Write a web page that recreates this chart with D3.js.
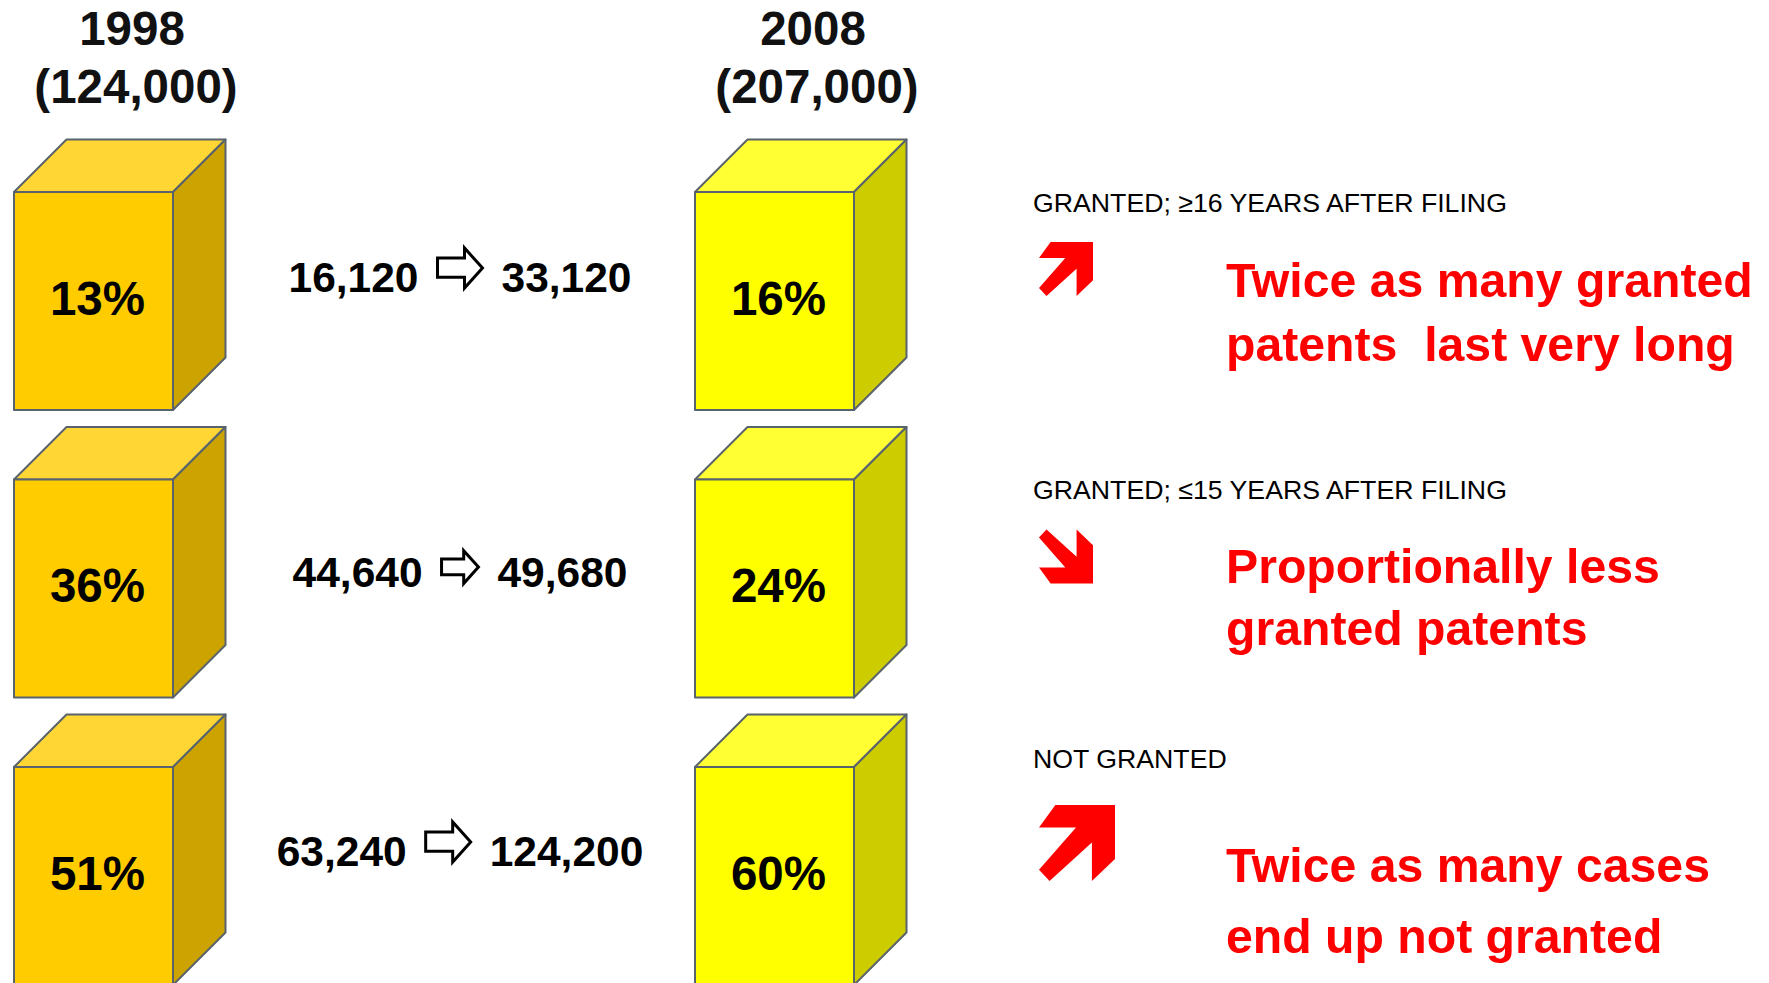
<!DOCTYPE html>
<html>
<head>
<meta charset="utf-8">
<script src="https://cdn.jsdelivr.net/npm/d3@7"></script>
<style>
  body { margin: 0; background: #fff; }
  svg { display: block; font-family: "Liberation Sans", Arial, sans-serif; }
</style>
</head>
<body>
<div id="chart"></div>
<script>
// data
const years = ["1998", "2008"];
const totals = [124000, 207000];
const categories = ["GRANTED; \u226516 YEARS AFTER FILING", "GRANTED; \u226415 YEARS AFTER FILING", "NOT GRANTED"];
const share1998 = [13, 36, 51];
const share2008 = [16, 24, 60];
const count1998 = [16120, 44640, 63240];
const count2008 = [33120, 49680, 124200];
const trend = ["up", "down", "up"];
const notes = [
    ["Twice as many granted", "patents  last very long"],
    ["Proportionally less", "granted patents"],
    ["Twice as many cases", "end up not granted"]
];

// small per-row layout tweaks (offsets from the top of each box front)
const midBase = [100, 108, 99];
const midArrowScale = [1, 0.82, 1];
const labelBase = [20, 20, 1];
const noteBase = [[105, 169], [104, 166], [115, 186]];
const redArrow = [{dy: 50, size: 54}, {dy: 50, size: 54}, {dy: 38, size: 76}];

const width = 1769;
const height = 983;
const fmt = d3.format(",");

const svg = d3.select("#chart")
    .append("svg")
    .attr("width", width)
    .attr("height", height);

// scales
const x = d3.scaleOrdinal().domain(years).range([14, 695]);
const y = d3.scaleBand().domain(categories).range([192, 985]).paddingInner(0.2417).paddingOuter(0);
const boxW = 159;
const depth = 52.5;

const palette = {
    "1998": {front: "#FFCC00", top: "#FFD633", side: "#CCA300"},
    "2008": {front: "#FFFF00", top: "#FFFF33", side: "#CCCC00"}
};

// one entry per box
const boxes = [];
years.forEach(function(yr, i) {
    const shares = i === 0 ? share1998 : share2008;
    categories.forEach(function(cat, j) {
        boxes.push({year: yr, cat: cat, share: shares[j]});
    });
});

// header labels
const head = svg.append("g").attr("fill", "#111").attr("font-weight", "bold")
    .attr("font-size", 47.5).attr("text-anchor", "middle");
head.selectAll(".yr")
    .data(years)
    .enter()
    .append("text")
    .attr("x", d => x(d) + 118)
    .attr("y", 45)
    .text(d => d);
head.selectAll(".tot")
    .data(totals)
    .enter()
    .append("text")
    .attr("x", (d, i) => x(years[i]) + 122)
    .attr("y", 103)
    .text(d => "(" + fmt(d) + ")");

// 3D boxes
const box = svg.selectAll(".box")
    .data(boxes)
    .enter()
    .append("g")
    .attr("class", "box")
    .attr("stroke", "#59636d")
    .attr("stroke-width", 2)
    .attr("stroke-linejoin", "round");

box.append("path")
    .attr("fill", d => palette[d.year].top)
    .attr("d", function(d) {
        const x0 = x(d.year), y0 = y(d.cat);
        return `M${x0},${y0}L${x0 + depth},${y0 - depth}L${x0 + boxW + depth},${y0 - depth}L${x0 + boxW},${y0}Z`;
    });

box.append("path")
    .attr("fill", d => palette[d.year].side)
    .attr("d", function(d) {
        const x0 = x(d.year) + boxW, y0 = y(d.cat), h = y.bandwidth();
        return `M${x0},${y0}L${x0 + depth},${y0 - depth}L${x0 + depth},${y0 + h - depth}L${x0},${y0 + h}Z`;
    });

box.append("rect")
    .attr("fill", d => palette[d.year].front)
    .attr("x", d => x(d.year))
    .attr("y", d => y(d.cat))
    .attr("width", boxW)
    .attr("height", y.bandwidth());

box.append("text")
    .attr("stroke", "none")
    .attr("fill", "#000")
    .attr("font-weight", "bold")
    .attr("font-size", 47.5)
    .attr("text-anchor", "middle")
    .attr("x", d => x(d.year) + boxW / 2 + 4)
    .attr("y", d => y(d.cat) + 123)
    .text(d => d.share + "%");

// middle: count 1998 => count 2008
function hollowArrow(x0, y0, w, h) {
    const pts = [[0, 0.25], [0.6, 0.25], [0.6, 0], [1, 0.5], [0.6, 1], [0.6, 0.73], [0, 0.73]];
    return "M" + pts.map(p => (x0 + p[0] * w) + "," + (y0 + p[1] * h)).join("L") + "Z";
}

categories.forEach(function(cat, j) {
    const g = svg.append("g").attr("font-weight", "bold").attr("font-size", 42.5).attr("fill", "#000");
    const base = y(cat) + midBase[j];
    const left = g.append("text").attr("y", base).text(fmt(count1998[j]));
    const right = g.append("text").attr("y", base).text(fmt(count2008[j]));
    const aw = 45 * midArrowScale[j], ah = 40 * midArrowScale[j];
    const lw = left.node().getComputedTextLength();
    const rw = right.node().getComputedTextLength();
    const total = lw + 19 + aw + 19 + rw;
    const start = 460 - total / 2;
    left.attr("x", start);
    g.append("path")
        .attr("d", hollowArrow(start + lw + 19, base - 4 - ah, aw, ah))
        .attr("fill", "#fff")
        .attr("stroke", "#000")
        .attr("stroke-width", 3);
    right.attr("x", start + lw + 19 + aw + 19);
});

// right side: category, trend arrow and note
function trendArrow(x0, y0, s, dir) {
    const pts = [[0.215, 0], [1, 0], [1, 0.71], [0.696, 1], [0.696, 0.494], [0.139, 1], [0, 0.852], [0.487, 0.296], [0, 0.296]];
    return "M" + pts.map(function(p) {
        const v = dir === "up" ? p[1] : 1 - p[1];
        return (x0 + p[0] * s) + "," + (y0 + v * s);
    }).join("L") + "Z";
}

const side = svg.selectAll(".side")
    .data(categories)
    .enter()
    .append("g")
    .attr("class", "side");

side.append("text")
    .attr("x", 1033)
    .attr("y", (d, j) => y(d) + labelBase[j])
    .attr("font-size", 26.7)
    .attr("fill", "#000")
    .text(d => d);

side.append("path")
    .attr("fill", "#FF0000")
    .attr("d", (d, j) => trendArrow(1039, y(d) + redArrow[j].dy, redArrow[j].size, trend[j]));

side.each(function(d, j) {
    d3.select(this).selectAll(".note")
        .data(notes[j])
        .enter()
        .append("text")
        .attr("class", "note")
        .attr("x", 1226)
        .attr("y", (t, k) => y(d) + noteBase[j][k])
        .attr("font-size", 48.2)
        .attr("font-weight", "bold")
        .attr("fill", "#FF0000")
        .style("white-space", "pre")
        .text(t => t);
});
</script>
</body>
</html>
